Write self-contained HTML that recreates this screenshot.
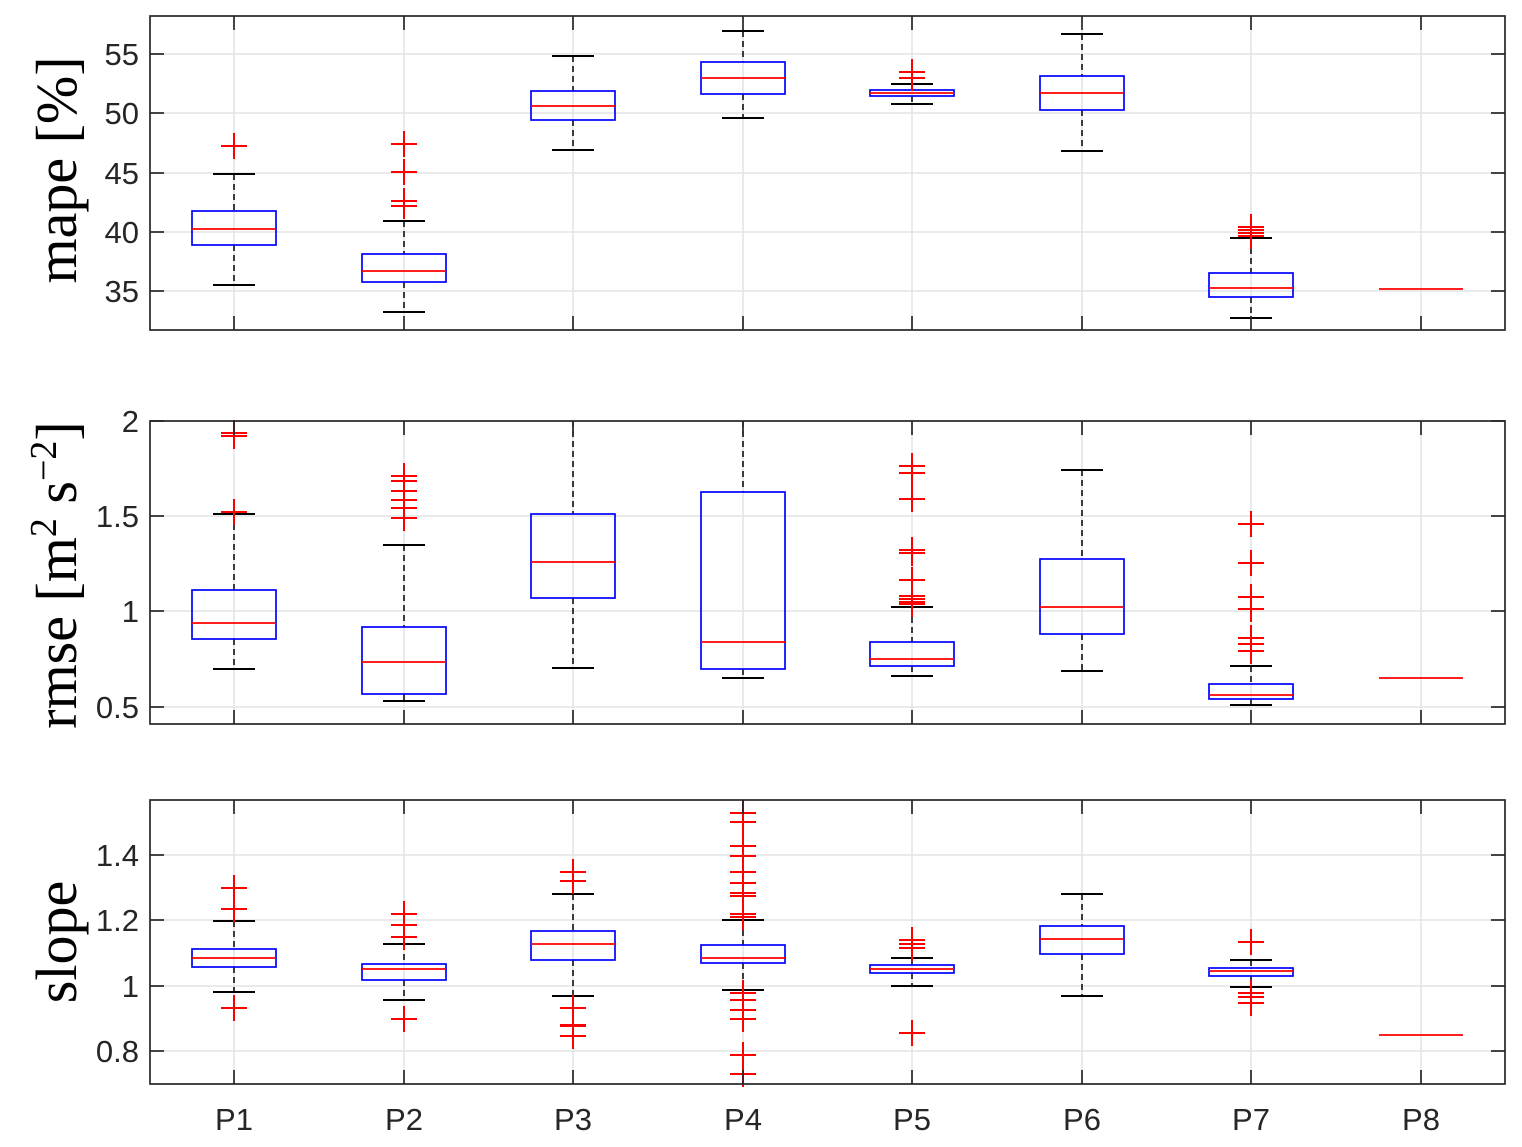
<!DOCTYPE html>
<html><head><meta charset="utf-8"><style>
html,body{margin:0;padding:0;background:#fff;}
svg{display:block;}
</style></head><body>
<svg id="s" width="1522" height="1147" xmlns="http://www.w3.org/2000/svg" font-family="Liberation Sans, sans-serif"></svg>
<script>
const X=[234,404,573,743,912,1082,1251,1421];
const panels=[
 {top:16,bot:330,ticks:[[54,'55'],[113,'50'],[173,'45'],[232,'40'],[291,'35']],
  box:[[174,211,245,229,285,[146]],[221,254,282,271,312,[144,172,201,206]],[56,91,120,106,150,[]],[31,62,94,78,118,[]],[84,90,96,93,104,[72,78]],[34,76,110,93,151,[]],[238,273,297,288,318,[227,230,233,236]],[null,null,null,289,null,[]]]},
 {top:421,bot:724,ticks:[[421,'2'],[516,'1.5'],[611,'1'],[707,'0.5']],
  box:[[514,590,639,623,669,[433,436,512]],[545,627,694,662,701,[476,481,491,500,508,518]],[421,514,598,562,668,[]],[421,492,669,642,678,[]],[607,642,666,659,676,[466,473,499,550,553,580,596,599,602,604]],[470,559,634,607,671,[]],[666,684,699,695,705,[524,563,597,609,638,644,651]],[null,null,null,678,null,[]]]},
 {top:800,bot:1084,ticks:[[855,'1.4'],[920,'1.2'],[986,'1'],[1051,'0.8']],
  box:[[921,949,967,958,992,[888,909,1008]],[944,964,980,969,1000,[914,925,937,1019]],[894,931,960,944,996,[872,881,1008,1025,1026,1036]],[920,945,963,958,990,[813,822,846,856,872,883,893,896,914,917,993,1000,1010,1019,1055,1074]],[958,965,973,969,986,[940,944,948,1033]],[894,926,954,939,996,[]],[960,968,976,971,987,[942,993,997,1003]],[null,null,null,1035,null,[]]]}
];
let h='';
const L=150,R=1505;
panels.forEach((p,pi)=>{
 X.forEach(x=>{h+=`<line x1="${x}" y1="${p.top}" x2="${x}" y2="${p.bot}" stroke="#e3e3e3" stroke-width="1.5"/>`;});
 p.ticks.forEach(t=>{h+=`<line x1="${L}" y1="${t[0]}" x2="${R}" y2="${t[0]}" stroke="#e3e3e3" stroke-width="1.5"/>`;});
 p.box.forEach((b,i)=>{
  const x=X[i];
  if(b[0]!==null){
   h+=`<line x1="${x}" y1="${b[0]}" x2="${x}" y2="${b[1]}" stroke="#000" stroke-width="1.5" stroke-dasharray="6,4"/>`;
   h+=`<line x1="${x}" y1="${b[2]}" x2="${x}" y2="${b[4]}" stroke="#000" stroke-width="1.5" stroke-dasharray="6,4"/>`;
   if(b[0]>p.top+1)h+=`<line x1="${x-21}" y1="${b[0]}" x2="${x+21}" y2="${b[0]}" stroke="#000" stroke-width="2"/>`;
   h+=`<line x1="${x-21}" y1="${b[4]}" x2="${x+21}" y2="${b[4]}" stroke="#000" stroke-width="2"/>`;
   h+=`<rect x="${x-42}" y="${b[1]}" width="84" height="${b[2]-b[1]}" fill="none" stroke="#00f" stroke-width="1.7"/>`;
  }
  h+=`<line x1="${x-42}" y1="${b[3]}" x2="${x+42}" y2="${b[3]}" stroke="#f00" stroke-width="1.7"/>`;
  b[5].forEach(o=>{h+=`<path d="M${x-13} ${o}H${x+13}M${x} ${o-13}V${o+13}" stroke="#f00" stroke-width="2" fill="none"/>`;});
 });
 h+=`<rect x="${L}" y="${p.top}" width="${R-L}" height="${p.bot-p.top}" fill="none" stroke="#262626" stroke-width="1.7"/>`;
 p.ticks.forEach(t=>{
  h+=`<line x1="${L}" y1="${t[0]}" x2="${L+14}" y2="${t[0]}" stroke="#262626" stroke-width="1.7"/><line x1="${R}" y1="${t[0]}" x2="${R-14}" y2="${t[0]}" stroke="#262626" stroke-width="1.7"/>`;
  h+=`<text x="${L-11}" y="${t[0]+11}" text-anchor="end" font-size="31" fill="#262626">${t[1]}</text>`;
 });
 X.forEach(x=>{h+=`<line x1="${x}" y1="${p.top}" x2="${x}" y2="${p.top+14}" stroke="#262626" stroke-width="1.7"/><line x1="${x}" y1="${p.bot}" x2="${x}" y2="${p.bot-14}" stroke="#262626" stroke-width="1.7"/>`;});
});
X.forEach((x,i)=>{h+=`<text x="${x}" y="1130" text-anchor="middle" font-size="31" fill="#262626">P${i+1}</text>`;});
const ys=[[76,170,'mape [%]'],[76,575,'rmse [m<tspan dy="-20" font-size="38">2</tspan><tspan dy="20"> s</tspan><tspan dy="-20" font-size="38">−2</tspan><tspan dy="20">]</tspan>'],[76,942,'slope']];
ys.forEach(y=>{h+=`<text transform="translate(${y[0]},${y[1]}) rotate(-90)" text-anchor="middle" font-family="Liberation Serif, serif" font-size="58" fill="#000">${y[2]}</text>`;});
document.getElementById('s').innerHTML=h;
</script>
</body></html>
